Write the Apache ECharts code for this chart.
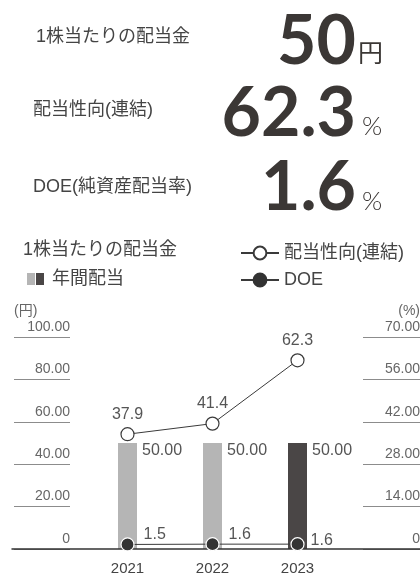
<!DOCTYPE html>
<html>
<head>
<meta charset="utf-8">
<script src="https://cdn.jsdelivr.net/npm/echarts@6/dist/echarts.min.js"></script>
<style>
  html, body { margin: 0; padding: 0; background: #fff; }
  #chart { width: 420px; height: 576px; }
</style>
</head>
<body>
<div id="chart"></div>
<script>
// データ
const years = ['2021', '2022', '2023']
const dividend = [50, 50, 50]
const payoutRatio = [37.9, 41.4, 62.3]
const doe = [1.5, 1.6, 1.6]
const yenTicks = [0, 20, 40, 60, 80, 100]
const pctTicks = [0, 14, 28, 42, 56, 70]

// 上部の数値
const headLabels = ['1株当たりの配当金', '配当性向(連結)', 'DOE(純資産配当率)']
const headValues = ['50', '62.3', '1.6']
const headUnits = ['円', '%', '%']

const barColors = ['#b5b5b5', '#b5b5b5', '#4a4646']
const lineColor = '#3a3a3a'
const cjk = "'Liberation Sans', 'Noto Sans CJK JP', sans-serif"

const headRows = [
  { label: 37, num: 42, unitX: 358, unit: 52, unitFont: "25px 'Noto Sans CJK JP'" },
  { label: 110, num: 114, unitX: 362, unit: 127, unitFont: "300 26px Lato" },
  { label: 187, num: 188, unitX: 362, unit: 202, unitFont: "300 26px Lato" },
]

const graphic = []
headRows.forEach((r, i) => {
  graphic.push({
    type: 'text', x: i === 0 ? 36 : 33, y: r.label,
    style: { text: headLabels[i], font: "18px " + cjk, fill: '#444', textAlign: 'left', textVerticalAlign: 'middle' },
  })
  graphic.push({
    type: 'text', x: 356, y: r.num,
    style: { text: headValues[i], font: "bold 68px Lato", fill: '#3b3735', textAlign: 'right', textVerticalAlign: 'middle' },
  })
  graphic.push({
    type: 'text', x: r.unitX, y: r.unit,
    style: { text: headUnits[i], font: r.unitFont, fill: '#3b3735', textAlign: 'left', textVerticalAlign: 'middle' },
  })
})
// 凡例（棒）と単位
graphic.push(
  { type: 'text', x: 23, y: 250, style: { text: '1株当たりの配当金', font: "18px " + cjk, fill: '#444', textAlign: 'left', textVerticalAlign: 'middle' } },
  { type: 'rect', shape: { x: 27, y: 273, width: 8, height: 12 }, style: { fill: barColors[0] } },
  { type: 'rect', shape: { x: 36, y: 273, width: 8, height: 12 }, style: { fill: barColors[2] } },
  { type: 'text', x: 52, y: 279, style: { text: '年間配当', font: "18px " + cjk, fill: '#444', textAlign: 'left', textVerticalAlign: 'middle' } },
  { type: 'text', x: 14, y: 311, style: { text: '(円)', font: "14px " + cjk, fill: '#666', textAlign: 'left', textVerticalAlign: 'middle' } },
  { type: 'text', x: 420, y: 311, style: { text: '(%)', font: "14px " + cjk, fill: '#666', textAlign: 'right', textVerticalAlign: 'middle' } }
)

const fmt2 = (v) => (v === 0 ? '0' : v.toFixed(2))
const scaleAxis = (grid, ticks) => ({
  gridIndex: grid,
  type: 'value',
  position: 'right',
  min: ticks[0],
  max: ticks[ticks.length - 1],
  interval: ticks[1] - ticks[0],
  axisLine: { show: false },
  axisTick: { show: false },
  splitLine: { lineStyle: { color: '#8c8c8c', width: 1 } },
  axisLabel: {
    inside: true, margin: 0, verticalAlign: 'bottom', padding: [0, 0, 3, 0],
    fontSize: 14, color: '#666', formatter: fmt2,
  },
})

const doeData = doe.map((v, i) => ({
  value: v,
  label: i === doe.length - 1
    ? { position: 'right', distance: 6, offset: [0, -4] }
    : { position: 'right', distance: 9, offset: [0, -10] },
}))

const gridBox = { top: 337, height: 212, outerBoundsMode: 'none', containLabel: false }

const option = {
  animation: false,
  textStyle: { fontFamily: cjk },
  graphic: graphic,
  legend: {
    orient: 'vertical',
    left: 235,
    top: 239,
    itemWidth: 38,
    itemHeight: 16,
    itemGap: 9,
    textStyle: { fontSize: 18, color: '#444' },
    data: [
      { name: '配当性向(連結)' },
      { name: 'DOE', itemStyle: { borderColor: '#333' } },
    ],
  },
  grid: [
    Object.assign({ left: 85, width: 255 }, gridBox),
    Object.assign({ left: 14, width: 56 }, gridBox),
    Object.assign({ left: 363, width: 57 }, gridBox),
    Object.assign({ left: 12, width: 408 }, gridBox),
  ],
  xAxis: [
    {
      gridIndex: 0, type: 'category', data: years,
      axisLine: { show: false }, axisTick: { show: false },
      axisLabel: { margin: 12, fontSize: 15, color: '#444' },
    },
    { gridIndex: 1, type: 'value', show: false },
    { gridIndex: 2, type: 'value', show: false },
    {
      gridIndex: 3, type: 'value', z: 10,
      axisLine: { show: true, lineStyle: { color: '#333', width: 1.5 } },
      axisTick: { show: false }, axisLabel: { show: false }, splitLine: { show: false },
    },
  ],
  yAxis: [
    { gridIndex: 0, type: 'value', min: yenTicks[0], max: yenTicks[yenTicks.length - 1], interval: yenTicks[1] - yenTicks[0], show: false },
    { gridIndex: 0, type: 'value', min: pctTicks[0], max: pctTicks[pctTicks.length - 1], interval: pctTicks[1] - pctTicks[0], show: false },
    scaleAxis(1, yenTicks),
    scaleAxis(2, pctTicks),
    { gridIndex: 3, type: 'value', min: 0, max: 1, show: false },
  ],
  series: [
    {
      name: '年間配当',
      type: 'bar',
      xAxisIndex: 0,
      yAxisIndex: 0,
      barWidth: 19,
      data: dividend,
      itemStyle: { color: (p) => barColors[p.dataIndex] },
      label: {
        show: true, position: ['100%', 0], offset: [5, 0],
        fontSize: 16, color: '#555', formatter: (p) => p.value.toFixed(2),
      },
    },
    {
      name: '配当性向(連結)',
      type: 'line',
      xAxisIndex: 0,
      yAxisIndex: 1,
      symbol: 'circle',
      symbolSize: 13,
      data: payoutRatio,
      itemStyle: { color: '#fff', borderColor: lineColor, borderWidth: 1.2 },
      lineStyle: { color: lineColor, width: 1 },
      label: { show: true, position: 'top', distance: 5, fontSize: 16, color: '#555' },
      z: 5,
    },
    {
      name: 'DOE',
      type: 'line',
      xAxisIndex: 0,
      yAxisIndex: 1,
      symbol: 'circle',
      symbolSize: 13,
      data: doeData,
      itemStyle: { color: '#333', borderColor: '#fff', borderWidth: 1.2 },
      lineStyle: { color: lineColor, width: 1 },
      label: { show: true, fontSize: 16, color: '#555' },
      z: 12,
    },
  ],
}

const myChart = echarts.init(document.getElementById('chart'))
myChart.setOption(option)
window.addEventListener('resize', () => myChart.resize())
</script>
</body>
</html>
